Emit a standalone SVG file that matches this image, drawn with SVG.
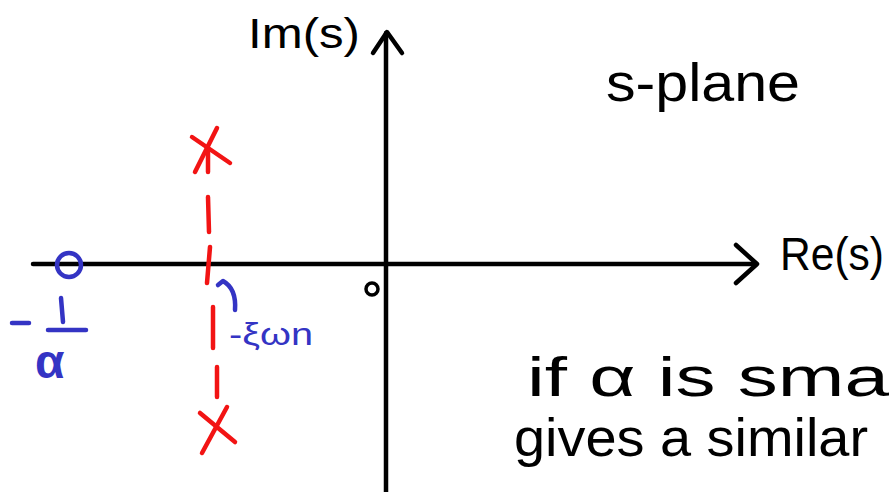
<svg xmlns="http://www.w3.org/2000/svg" width="894" height="492" viewBox="0 0 894 492">
<defs>
<style>
.ax{stroke:#000;stroke-width:4.5;fill:none;stroke-linecap:round;stroke-linejoin:round}
.red{stroke:#f21414;stroke-width:4.5;fill:none;stroke-linecap:round}
.blue{stroke:#3434c4;stroke-width:4.5;fill:none;stroke-linecap:round;stroke-linejoin:round}
.t{font-family:"Liberation Sans","Open Sans",sans-serif;fill:#000}
.tb{font-family:"Liberation Sans","Open Sans",sans-serif;fill:#3434c4}
</style>
</defs>
<rect width="894" height="492" fill="#fff"/>
<g id="real-axis">
<line class="ax" x1="33" y1="264" x2="756" y2="264"/>
<polyline class="ax" points="736,245 757,264 736,283"/>
<text class="t" x="780" y="270" font-size="46" textLength="104" lengthAdjust="spacingAndGlyphs">Re(s)</text>
</g>
<g id="imag-axis">
<line class="ax" x1="386" y1="492" x2="386" y2="33"/>
<polyline class="ax" points="373,53 387,32 402,53"/>
<text class="t" x="248" y="48" font-size="42" textLength="112" lengthAdjust="spacingAndGlyphs">Im(s)</text>
</g>
<g id="origin">
<circle cx="372" cy="289" r="6" stroke="#000" stroke-width="3.5" fill="none"/>
</g>
<g id="title">
<text class="t" x="606" y="101" font-size="54" textLength="194" lengthAdjust="spacingAndGlyphs">s-plane</text>
</g>
<g id="zero">
<circle class="blue" cx="69" cy="265" r="12"/>
<line class="blue" x1="12" y1="323" x2="29" y2="323"/>
<line class="blue" x1="61" y1="298" x2="63" y2="322"/>
<line class="blue" x1="48" y1="330" x2="86" y2="330"/>
<text class="tb" x="35" y="378" font-size="48" font-weight="bold">α</text>
</g>
<g id="pole-upper">
<line class="red" x1="192" y1="137" x2="230" y2="163"/>
<line class="red" x1="217" y1="128" x2="195" y2="172"/>
</g>
<g id="pole-lower">
<line class="red" x1="200" y1="413" x2="235" y2="442"/>
<line class="red" x1="227" y1="407" x2="202" y2="453"/>
</g>
<g id="connectors">
<line class="red" x1="208" y1="150" x2="208" y2="172"/>
<line class="red" x1="208" y1="197" x2="209" y2="232"/>
<line class="red" x1="210" y1="247" x2="207" y2="283"/>
<line class="red" x1="213" y1="307" x2="213" y2="348"/>
<line class="red" x1="217" y1="367" x2="217" y2="397"/>
<path class="blue" d="M235,310 C236,296 232,286 223,281 L218,285"/>
</g>
<g id="damping-label">
<text class="tb" x="229" y="345" font-size="31" textLength="84" lengthAdjust="spacingAndGlyphs">-ξωn</text>
</g>
<g id="note">
<text class="t" x="527" y="396" font-size="56" textLength="362" lengthAdjust="spacingAndGlyphs">if  α  is sma</text>
<text class="t" x="514" y="456" font-size="54" textLength="354" lengthAdjust="spacingAndGlyphs">gives  a similar</text>
</g>
</svg>
